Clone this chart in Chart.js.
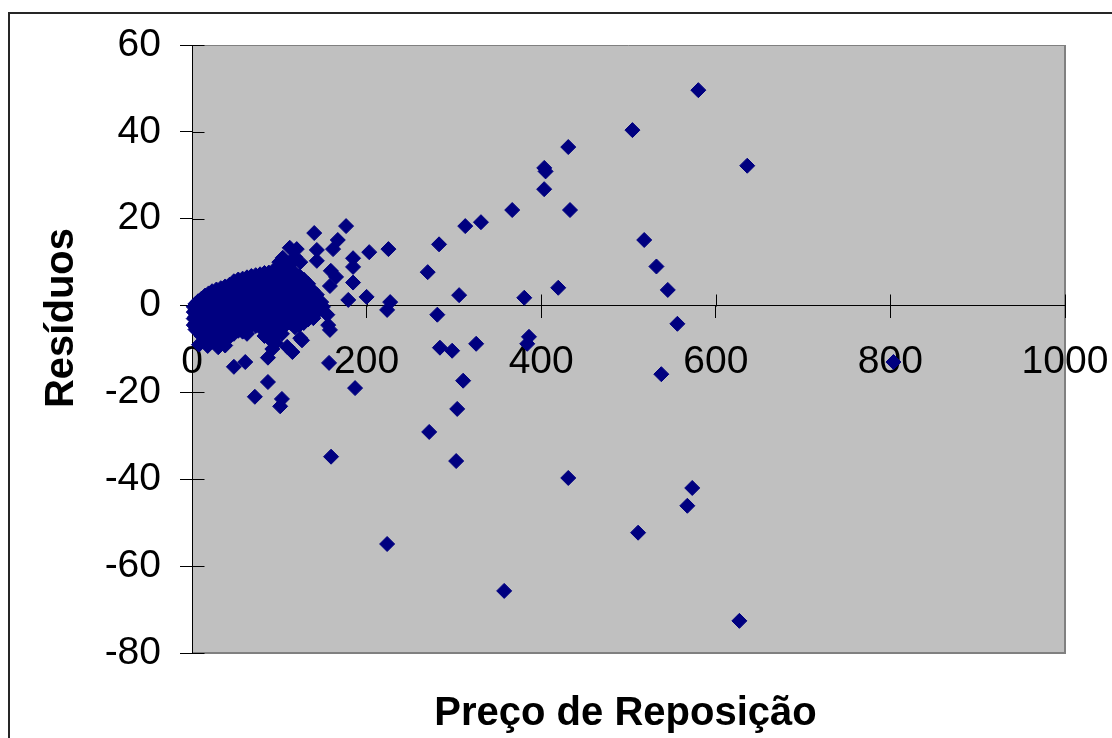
<!DOCTYPE html>
<html>
<head>
<meta charset="utf-8">
<title>Resíduos x Preço de Reposição</title>
<script src="https://cdn.jsdelivr.net/npm/chart.js@4.4.1/dist/chart.umd.min.js"></script>
<style>
  html, body { margin: 0; padding: 0; background: #ffffff; }
  #wrap { width: 1112px; height: 738px; position: relative; }
  canvas { display: block; }
</style>
</head>
<body>
<div id="wrap"><canvas id="grafico" width="1112" height="738"></canvas></div>
<script>
// Axis ticks
const xTicks = [0, 200, 400, 600, 800, 1000];
const yTicks = [-80, -60, -40, -20, 0, 20, 40, 60];

// Dense group of low-price items: one price per column, residuals stacked in it
const clusterPreco = [2, 4, 7, 11, 15, 19, 23, 28, 33, 38, 43, 48, 53, 58, 63, 68,
                      73, 78, 83, 88, 93, 98, 103, 108, 113, 118, 123, 128, 133, 138, 143, 148];
const clusterResiduos = [
  [-4.5, -3.0, -1.5, -0.3],
  [-5.5, -4.0, -2.5, -1.0, 0.4],
  [-6.0, -4.5, -3.0, -1.5, 0.0, 1.0],
  [-7.0, -5.5, -4.0, -2.5, -1.0, 0.5, 1.6],
  [-7.4, -6.0, -4.5, -3.0, -1.5, 0.0, 1.4, 2.3],
  [-7.5, -6.0, -4.5, -3.0, -1.5, 0.0, 1.5, 2.8],
  [-7.8, -6.2, -4.7, -3.2, -1.7, -0.2, 1.3, 2.8, 3.3],
  [-8.0, -6.5, -5.0, -3.5, -2.0, -0.5, 1.0, 2.5, 3.7],
  [-7.8, -6.3, -4.8, -3.3, -1.8, -0.3, 1.2, 2.7, 4.0],
  [-7.5, -6.0, -4.5, -3.0, -1.5, 0.0, 1.5, 3.0, 4.4],
  [-7.2, -5.7, -4.2, -2.7, -1.2, 0.3, 1.8, 3.3, 4.8],
  [-6.5, -5.0, -3.5, -2.0, -0.5, 1.0, 2.5, 4.0, 5.6],
  [-5.8, -4.3, -2.8, -1.3, 0.2, 1.7, 3.2, 4.7, 6.0],
  [-6.0, -4.5, -3.0, -1.5, 0.0, 1.5, 3.0, 4.5, 6.2],
  [-6.5, -5.0, -3.5, -2.0, -0.5, 1.0, 2.5, 4.0, 5.5, 6.5],
  [-4.5, -3.0, -1.5, 0.0, 1.5, 3.0, 4.5, 6.0, 6.8],
  [-4.7, -3.2, -1.7, -0.2, 1.3, 2.8, 4.3, 5.8, 7.0],
  [-5.0, -3.5, -2.0, -0.5, 1.0, 2.5, 4.0, 5.5, 7.2],
  [-7.0, -5.5, -4.0, -2.5, -1.0, 0.5, 2.0, 3.5, 5.0, 6.5, 7.5],
  [-7.5, -6.0, -4.5, -3.0, -1.5, 0.0, 1.5, 3.0, 4.5, 6.0, 7.6],
  [-6.8, -5.2, -3.7, -2.2, -0.7, 0.8, 2.3, 3.8, 5.3, 6.8, 8.0],
  [-6.5, -5.0, -3.5, -2.0, -0.5, 1.0, 2.5, 4.0, 5.5, 7.0, 8.3],
  [-6.5, -5.0, -3.5, -2.0, -0.5, 1.0, 2.5, 4.0, 5.5, 7.0, 8.6],
  [-4.3, -2.8, -1.3, 0.2, 1.7, 3.2, 4.7, 6.2, 7.7, 8.8],
  [-4.0, -2.5, -1.0, 0.5, 2.0, 3.5, 5.0, 6.5, 8.0],
  [-5.0, -3.5, -2.0, -0.5, 1.0, 2.5, 4.0, 5.5, 7.0, 7.5],
  [-4.5, -3.0, -1.5, 0.0, 1.5, 3.0, 4.5, 6.0, 6.8],
  [-4.0, -2.5, -1.0, 0.5, 2.0, 3.5, 5.0, 6.0],
  [-3.2, -1.8, -0.3, 1.2, 2.7, 4.2, 5.0],
  [-2.5, -1.0, 0.5, 2.0, 3.5],
  [-1.5, 0.0, 1.5, 2.5],
  [-0.5, 0.8]
];

// Loose items around the dense group
const loosePreco = [176.5, 140, 167, 161.6, 143, 112, 120, 203, 225, 100, 115, 124, 143, 184.5, 184.5,
                    159, 165, 158, 184.5, 179, 200, 227, 223.5, 143, 150, 155, 156, 139, 158, 124,
                    109, 87, 157, 87, 72, 103, 101, 48, 61, 8, 18, 30, 38, 115, 126, 104, 118, 92, 96];
const looseResiduos = [18.3, 16.7, 15.1, 13.0, 12.8, 13.3, 13.0, 12.3, 13.0, 10.0, 10.0, 10.0, 10.3, 10.9, 8.9,
                       8.0, 6.6, 4.5, 5.3, 1.3, 2.0, 0.8, -1.0, 1.3, -0.3, -2.1, -4.5, -2.9, -5.6, -7.5,
                       -9.5, -12.0, -13.2, -17.6, -21.0, -21.5, -23.2, -14.1, -13.0, -9.0, -9.3, -9.6, -9.2, -10.7, -8.0, 11.0, 11.2, -10.0, -8.6];

// High-price items
const altoPreco = [580, 504.5, 636, 431, 403.5, 405, 403.4, 366.8, 433, 331, 313, 518, 283, 532, 270,
                   545, 419.5, 380.6, 306, 281, 556, 386, 384, 325.5, 284, 298, 537.6, 310.6, 186.8, 303.8,
                   271.7, 159.3, 302.6, 431, 573, 567.4, 511, 223.5, 357.6, 627, 803.5];
const altoResiduos = [49.6, 40.4, 32.2, 36.5, 31.7, 30.9, 26.8, 22.0, 22.0, 19.2, 18.3, 15.1, 14.1, 9.0, 7.7,
                      3.6, 4.1, 1.8, 2.4, -2.1, -4.2, -7.2, -8.8, -8.8, -9.7, -10.4, -15.8, -17.3, -19.0, -23.8,
                      -29.1, -34.8, -35.8, -39.7, -42.0, -46.1, -52.3, -54.9, -65.7, -72.6, -13.0];

// Build the point list
const pontos = [];
clusterPreco.forEach((p, i) => clusterResiduos[i].forEach(r => pontos.push({ x: p, y: r })));
loosePreco.forEach((p, i) => pontos.push({ x: p, y: looseResiduos[i] }));
altoPreco.forEach((p, i) => pontos.push({ x: p, y: altoResiduos[i] }));

const FONT = "'Liberation Sans', Arial, Helvetica, sans-serif";
const TICK_LEN = 12;

// Plot background, outer frame, crossing tick marks and axis titles
const moldura = {
  id: 'moldura',
  beforeDraw(chart) {
    const { ctx, chartArea: a } = chart;
    ctx.save();
    ctx.fillStyle = '#ffffff';
    ctx.fillRect(0, 0, chart.width, chart.height);
    ctx.strokeStyle = '#262626';
    ctx.lineWidth = 2;
    ctx.strokeRect(9, 13, chart.width + 40, chart.height + 40);
    ctx.fillStyle = '#c0c0c0';
    ctx.fillRect(a.left, a.top, a.right - a.left, a.bottom - a.top);
    ctx.strokeStyle = '#808080';
    ctx.lineWidth = 1;
    ctx.beginPath();
    ctx.moveTo(a.left, a.top + 0.5);
    ctx.lineTo(a.right, a.top + 0.5);
    ctx.stroke();
    ctx.lineWidth = 2;
    ctx.beginPath();
    ctx.moveTo(a.right, a.top);
    ctx.lineTo(a.right, a.bottom);
    ctx.lineTo(a.left, a.bottom);
    ctx.stroke();
    ctx.restore();
  },
  beforeDatasetsDraw(chart) {
    const { ctx, chartArea: a, scales: { x, y } } = chart;
    ctx.save();
    ctx.strokeStyle = '#000000';
    ctx.lineWidth = 1;
    ctx.beginPath();
    const y0 = Math.round(y.getPixelForValue(0)) + 0.5;
    x.ticks.forEach(t => {
      const px = Math.round(x.getPixelForValue(t.value)) + 0.5;
      ctx.moveTo(px, y0 - TICK_LEN);
      ctx.lineTo(px, y0);
    });
    const x0 = Math.round(a.left) + 0.5;
    y.ticks.forEach(t => {
      const py = Math.round(y.getPixelForValue(t.value)) + 0.5;
      ctx.moveTo(x0, py);
      ctx.lineTo(x0 + TICK_LEN, py);
    });
    ctx.stroke();

    ctx.fillStyle = '#000000';
    ctx.font = 'bold 40px ' + FONT;
    ctx.textAlign = 'center';
    ctx.textBaseline = 'alphabetic';
    ctx.fillText('Preço de Reposição', (a.left + a.right) / 2 - 3, 725);
    ctx.translate(73, 318);
    ctx.rotate(-Math.PI / 2);
    ctx.fillText('Resíduos', 0, 0);
    ctx.restore();
  }
};

new Chart(document.getElementById('grafico'), {
  type: 'scatter',
  data: {
    datasets: [{
      label: 'Resíduos',
      data: pontos,
      pointStyle: 'rectRot',
      pointRadius: 7.5,
      pointHoverRadius: 7.5,
      backgroundColor: '#000080',
      borderColor: '#000080',
      borderWidth: 1,
      clip: false
    }]
  },
  options: {
    responsive: false,
    animation: false,
    devicePixelRatio: 1,
    layout: { padding: { left: 0, top: 45, right: 47, bottom: 85 } },
    plugins: {
      legend: { display: false },
      tooltip: { enabled: false },
      title: { display: false }
    },
    scales: {
      x: {
        type: 'linear',
        position: { y: 0 },
        min: 0,
        max: 1000,
        afterBuildTicks(s) { s.ticks = xTicks.map(v => ({ value: v })); },
        ticks: {
          color: '#000000',
          font: { family: FONT, size: 39 },
          padding: 21,
          maxRotation: 0,
          autoSkip: false,
          callback: v => String(v)
        },
        grid: { drawOnChartArea: false, drawTicks: true, tickLength: TICK_LEN, color: '#000000', lineWidth: 1 },
        border: { display: true, color: '#000000', width: 1 },
        afterFit(s) { s.height = 0; s.paddingLeft = 0; s.paddingRight = 0; }
      },
      y: {
        type: 'linear',
        position: 'left',
        min: -80,
        max: 60,
        afterBuildTicks(s) { s.ticks = yTicks.map(v => ({ value: v })); },
        ticks: {
          color: '#000000',
          font: { family: FONT, size: 39 },
          padding: 19,
          callback: v => String(v)
        },
        grid: { drawOnChartArea: false, drawTicks: true, tickLength: TICK_LEN, color: '#000000', lineWidth: 1 },
        border: { display: true, color: '#000000', width: 1 },
        afterFit(s) { s.width = 192; s.paddingTop = 0; s.paddingBottom = 0; }
      }
    }
  },
  plugins: [moldura]
});
</script>
</body>
</html>
